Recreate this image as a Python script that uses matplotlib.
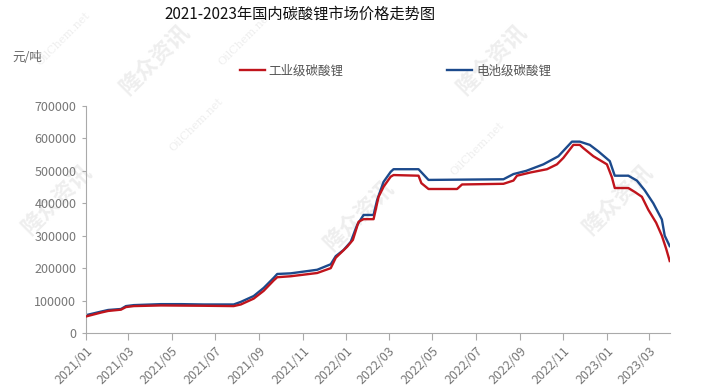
"""
2021-2023年国内碳酸锂市场价格走势图
"""
import matplotlib
matplotlib.use('Agg')
import matplotlib.pyplot as plt
import matplotlib.dates as mdates
import pandas as pd

plt.rcParams['font.family'] = ['Noto Sans CJK SC', 'DejaVu Sans']

# 电池级碳酸锂 (元/吨)
battery_dates = ['2021-01-01', '2021-01-22', '2021-02-01', '2021-02-19', '2021-02-26', '2021-03-09',
                 '2021-04-16', '2021-05-15', '2021-06-15', '2021-07-27', '2021-08-06', '2021-08-24',
                 '2021-09-07', '2021-09-21', '2021-09-26', '2021-10-15', '2021-11-21', '2021-12-10',
                 '2021-12-17', '2021-12-28', '2022-01-07', '2022-01-16', '2022-01-25', '2022-02-08',
                 '2022-02-13', '2022-02-22', '2022-03-04', '2022-03-08', '2022-04-12', '2022-04-26',
                 '2022-08-09', '2022-08-23', '2022-09-10', '2022-10-04', '2022-10-25', '2022-11-13',
                 '2022-11-24', '2022-12-08', '2022-12-20', '2023-01-05', '2023-01-12', '2023-01-31',
                 '2023-02-12', '2023-02-23', '2023-03-07', '2023-03-19', '2023-03-23', '2023-03-30']
battery_price = [55000, 66000, 71000, 74000, 83000, 86000,
                 89000, 89000, 88000, 88000, 96000, 114000,
                 139000, 170000, 182000, 184000, 195000, 212000,
                 237000, 256000, 281000, 333000, 364000, 364000,
                 410000, 466000, 497000, 505000, 505000, 472000,
                 474000, 490000, 500000, 520000, 545000, 590000,
                 590000, 580000, 560000, 530000, 485000, 485000,
                 470000, 440000, 400000, 350000, 300000, 268000]

# 工业级碳酸锂 (元/吨)
industrial_dates = ['2021-01-01', '2021-01-22', '2021-02-01', '2021-02-19', '2021-02-26', '2021-03-09',
                    '2021-04-16', '2021-06-15', '2021-07-27', '2021-08-06', '2021-08-24', '2021-09-07',
                    '2021-09-21', '2021-09-26', '2021-10-15', '2021-11-21', '2021-12-10', '2021-12-17',
                    '2022-01-02', '2022-01-10', '2022-01-18', '2022-01-25', '2022-02-08', '2022-02-15',
                    '2022-02-22', '2022-03-04', '2022-03-08', '2022-04-12', '2022-04-16', '2022-04-26',
                    '2022-06-05', '2022-06-12', '2022-08-09', '2022-08-23', '2022-08-28', '2022-09-16',
                    '2022-10-09', '2022-10-23', '2022-11-01', '2022-11-15', '2022-11-24', '2022-11-29',
                    '2022-12-13', '2023-01-01', '2023-01-08', '2023-01-12', '2023-01-31', '2023-02-09',
                    '2023-02-19', '2023-02-28', '2023-03-11', '2023-03-19', '2023-03-25', '2023-03-30']
industrial_price = [51000, 63000, 68000, 72000, 80000, 83000,
                    85000, 84000, 83000, 88000, 106000, 130000,
                    162000, 172000, 175000, 185000, 200000, 232000,
                    266000, 287000, 343000, 351000, 351000, 420000,
                    451000, 482000, 487000, 485000, 462000, 444000,
                    444000, 458000, 460000, 470000, 485000, 495000,
                    505000, 520000, 540000, 580000, 580000, 570000,
                    545000, 520000, 480000, 447000, 447000, 435000,
                    420000, 380000, 340000, 300000, 260000, 222000]

tick_months = ['2021-01', '2021-03', '2021-05', '2021-07', '2021-09', '2021-11', '2022-01',
               '2022-03', '2022-05', '2022-07', '2022-09', '2022-11', '2023-01', '2023-03']
y_ticks = [0, 100000, 200000, 300000, 400000, 500000, 600000, 700000]

fig = plt.figure(figsize=(7.02, 3.91), dpi=100)
ax = fig.add_axes([0.1225, 0.1483, 0.8315, 0.5807])
ax.set_zorder(1)
ax.patch.set_alpha(0)

# 水印
wm = dict(color='#eeeeee', rotation=45, ha='center', va='center', zorder=0)
for (x, y) in [(0.08, 0.49), (0.22, 0.85), (0.51, 0.45), (0.70, 0.85), (0.88, 0.49)]:
    fig.text(x, y, '隆众资讯', fontsize=16, fontweight='bold', style='italic', **wm)
for (x, y) in [(0.09, 0.90), (0.28, 0.68), (0.68, 0.62), (0.35, 0.90)]:
    fig.text(x, y, 'OilChem.net', fontsize=8, family='DejaVu Serif', **wm)

red = '#c0141c'
blue = '#1c4a8c'
ax.plot(pd.to_datetime(industrial_dates), industrial_price, color=red, linewidth=1.7, label='工业级碳酸锂', zorder=3)
ax.plot(pd.to_datetime(battery_dates), battery_price, color=blue, linewidth=1.7, label='电池级碳酸锂', zorder=2)

ax.set_xlim(pd.Timestamp('2021-01-01'), pd.Timestamp('2023-03-30'))
ax.set_ylim(0, 700000)
ax.set_yticks(y_ticks)
ax.set_yticklabels([str(v) for v in y_ticks])
ax.set_xticks(pd.to_datetime([m + '-01' for m in tick_months]))
ax.xaxis.set_major_formatter(mdates.DateFormatter('%Y/%m'))
for lbl in ax.get_xticklabels():
    lbl.set_rotation(45)
    lbl.set_ha('right')
    lbl.set_rotation_mode('anchor')

ax.tick_params(axis='x', colors='#aaaaaa', labelcolor='#777777', labelsize=9, length=5, pad=3)
ax.tick_params(axis='y', colors='#aaaaaa', labelcolor='#777777', labelsize=9, length=3, pad=4)
for s in ['top', 'right']:
    ax.spines[s].set_visible(False)
for s in ['left', 'bottom']:
    ax.spines[s].set_color('#aaaaaa')

fig.text(0.428, 0.963, '2021-2023年国内碳酸锂市场价格走势图', fontsize=11, ha='center', va='center', color='#111111')
fig.text(0.018, 0.853, '元/吨', fontsize=9, ha='left', va='center', color='#666666')

ax.legend(loc='center left', bbox_to_anchor=(0.255, 1.155, 0.55, 0.0), ncol=2, mode='expand', frameon=False,
          fontsize=9, labelcolor='#555555', handlelength=2.0, handletextpad=0.3, borderaxespad=0)

plt.savefig('out.png', dpi=100, facecolor='white')
plt.close()
